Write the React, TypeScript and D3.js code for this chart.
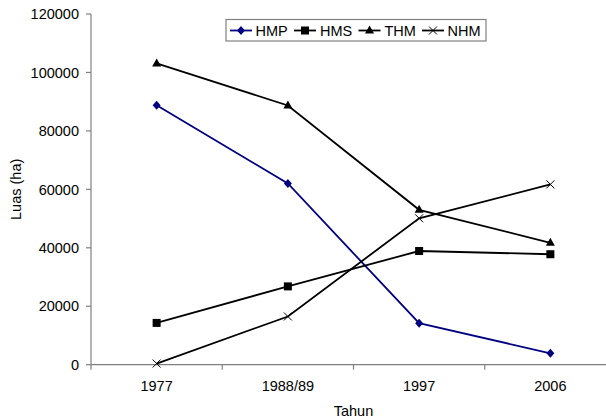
import React from "react";
import * as d3 from "d3";

const categories = ["1977", "1988/89", "1997", "2006"];
const hmp = [88800, 62000, 14200, 3900];
const hms = [14300, 26800, 38900, 37800];
const thm = [103100, 88700, 53000, 41700];
const nhm = [400, 16500, 50100, 61700];
const yTicks = [0, 20000, 40000, 60000, 80000, 100000, 120000];
const seriesNames = ["HMP", "HMS", "THM", "NHM"];

const W = 606;
const H = 419;
const FONT = "'Liberation Sans', Arial, sans-serif";
const FS = 14.5;

type MarkerKind = "diamond" | "square" | "triangle" | "x";

function Marker({ kind, cx, cy, color }: { kind: MarkerKind; cx: number; cy: number; color: string }) {
  const s = 4;
  if (kind === "diamond") {
    return <path d={`M${cx},${cy - s - 0.5}L${cx + s},${cy}L${cx},${cy + s + 0.5}L${cx - s},${cy}Z`} fill={color} />;
  }
  if (kind === "square") {
    return <rect x={cx - s} y={cy - s} width={2 * s} height={2 * s} fill={color} />;
  }
  if (kind === "triangle") {
    return <path d={`M${cx},${cy - s - 1}L${cx + s + 0.5},${cy + s - 1}L${cx - s - 0.5},${cy + s - 1}Z`} fill={color} />;
  }
  return (
    <path
      d={`M${cx - s},${cy - s}L${cx + s},${cy + s}M${cx - s},${cy + s}L${cx + s},${cy - s}`}
      stroke={color}
      strokeWidth={1}
      fill="none"
    />
  );
}

export default function App() {
  const left = 91;
  const right = 616;
  const top = 14;
  const bottom = 364.7;
  const x = d3.scaleBand<string>().domain(categories).range([left, right]).padding(0);
  const y = d3.scaleLinear().domain([0, 120000]).range([bottom, top]);
  const cx = (c: string) => (x(c) as number) + x.bandwidth() / 2;

  const series: { name: string; values: number[]; color: string; kind: MarkerKind }[] = [
    { name: seriesNames[0], values: hmp, color: "#000080", kind: "diamond" },
    { name: seriesNames[1], values: hms, color: "#000000", kind: "square" },
    { name: seriesNames[2], values: thm, color: "#000000", kind: "triangle" },
    { name: seriesNames[3], values: nhm, color: "#000000", kind: "x" },
  ];

  const line = d3
    .line<number>()
    .x((_, i) => cx(categories[i]))
    .y((v) => y(v));

  const boundaries = categories.map((c) => x(c) as number).concat([right]);

  // legend layout
  const legendItems = [
    { lineStart: 230, textStart: 255.5 },
    { lineStart: 294, textStart: 320 },
    { lineStart: 358.5, textStart: 384.5 },
    { lineStart: 422, textStart: 447.5 },
  ];

  return (
    <div style={{ position: "absolute", left: 0, top: 0 }}>
      <svg width={W} height={H} style={{ display: "block", background: "#fff" }} fontFamily={FONT}>
        {/* axes */}
        <line x1={left} x2={left} y1={top} y2={bottom} stroke="#808080" strokeWidth={1.2} />
        <line x1={left} x2={right} y1={bottom} y2={bottom} stroke="#808080" strokeWidth={1.2} />
        {yTicks.map((t) => (
          <g key={t}>
            <line x1={left - 5} x2={left} y1={y(t)} y2={y(t)} stroke="#808080" strokeWidth={1.2} />
            <text x={79} y={y(t)} dy="0.36em" textAnchor="end" fontSize={FS} fill="#000">
              {t}
            </text>
          </g>
        ))}
        {boundaries.map((b, i) => (
          <line key={i} x1={b} x2={b} y1={bottom} y2={bottom + 5} stroke="#808080" strokeWidth={1.2} />
        ))}
        {categories.map((c) => (
          <text key={c} x={cx(c)} y={390.5} textAnchor="middle" fontSize={FS} fill="#000">
            {c}
          </text>
        ))}
        <text x={(left + right) / 2} y={416} textAnchor="middle" fontSize={FS} fill="#000">
          Tahun
        </text>
        <text
          transform={`translate(21,${(top + bottom) / 2}) rotate(-90)`}
          textAnchor="middle"
          fontSize={FS}
          fill="#000"
        >
          Luas (ha)
        </text>

        {/* series */}
        {series.map((s) => (
          <g key={s.name}>
            <path d={line(s.values) || ""} fill="none" stroke={s.color} strokeWidth={1.8} />
            {s.values.map((v, i) => (
              <Marker key={i} kind={s.kind} cx={cx(categories[i])} cy={y(v)} color={s.color} />
            ))}
          </g>
        ))}

        {/* legend */}
        <rect x={226} y={19.5} width={260} height={21.5} fill="#fff" stroke="#808080" strokeWidth={1.2} />
        {series.map((s, i) => {
          const it = legendItems[i];
          const ly = 30.5;
          return (
            <g key={s.name}>
              <line x1={it.lineStart} x2={it.lineStart + 22} y1={ly} y2={ly} stroke={s.color} strokeWidth={1.8} />
              <Marker kind={s.kind} cx={it.lineStart + 11} cy={ly} color={s.color} />
              <text x={it.textStart} y={ly} dy="0.36em" fontSize={FS} fill="#000">
                {s.name}
              </text>
            </g>
          );
        })}
      </svg>
    </div>
  );
}
